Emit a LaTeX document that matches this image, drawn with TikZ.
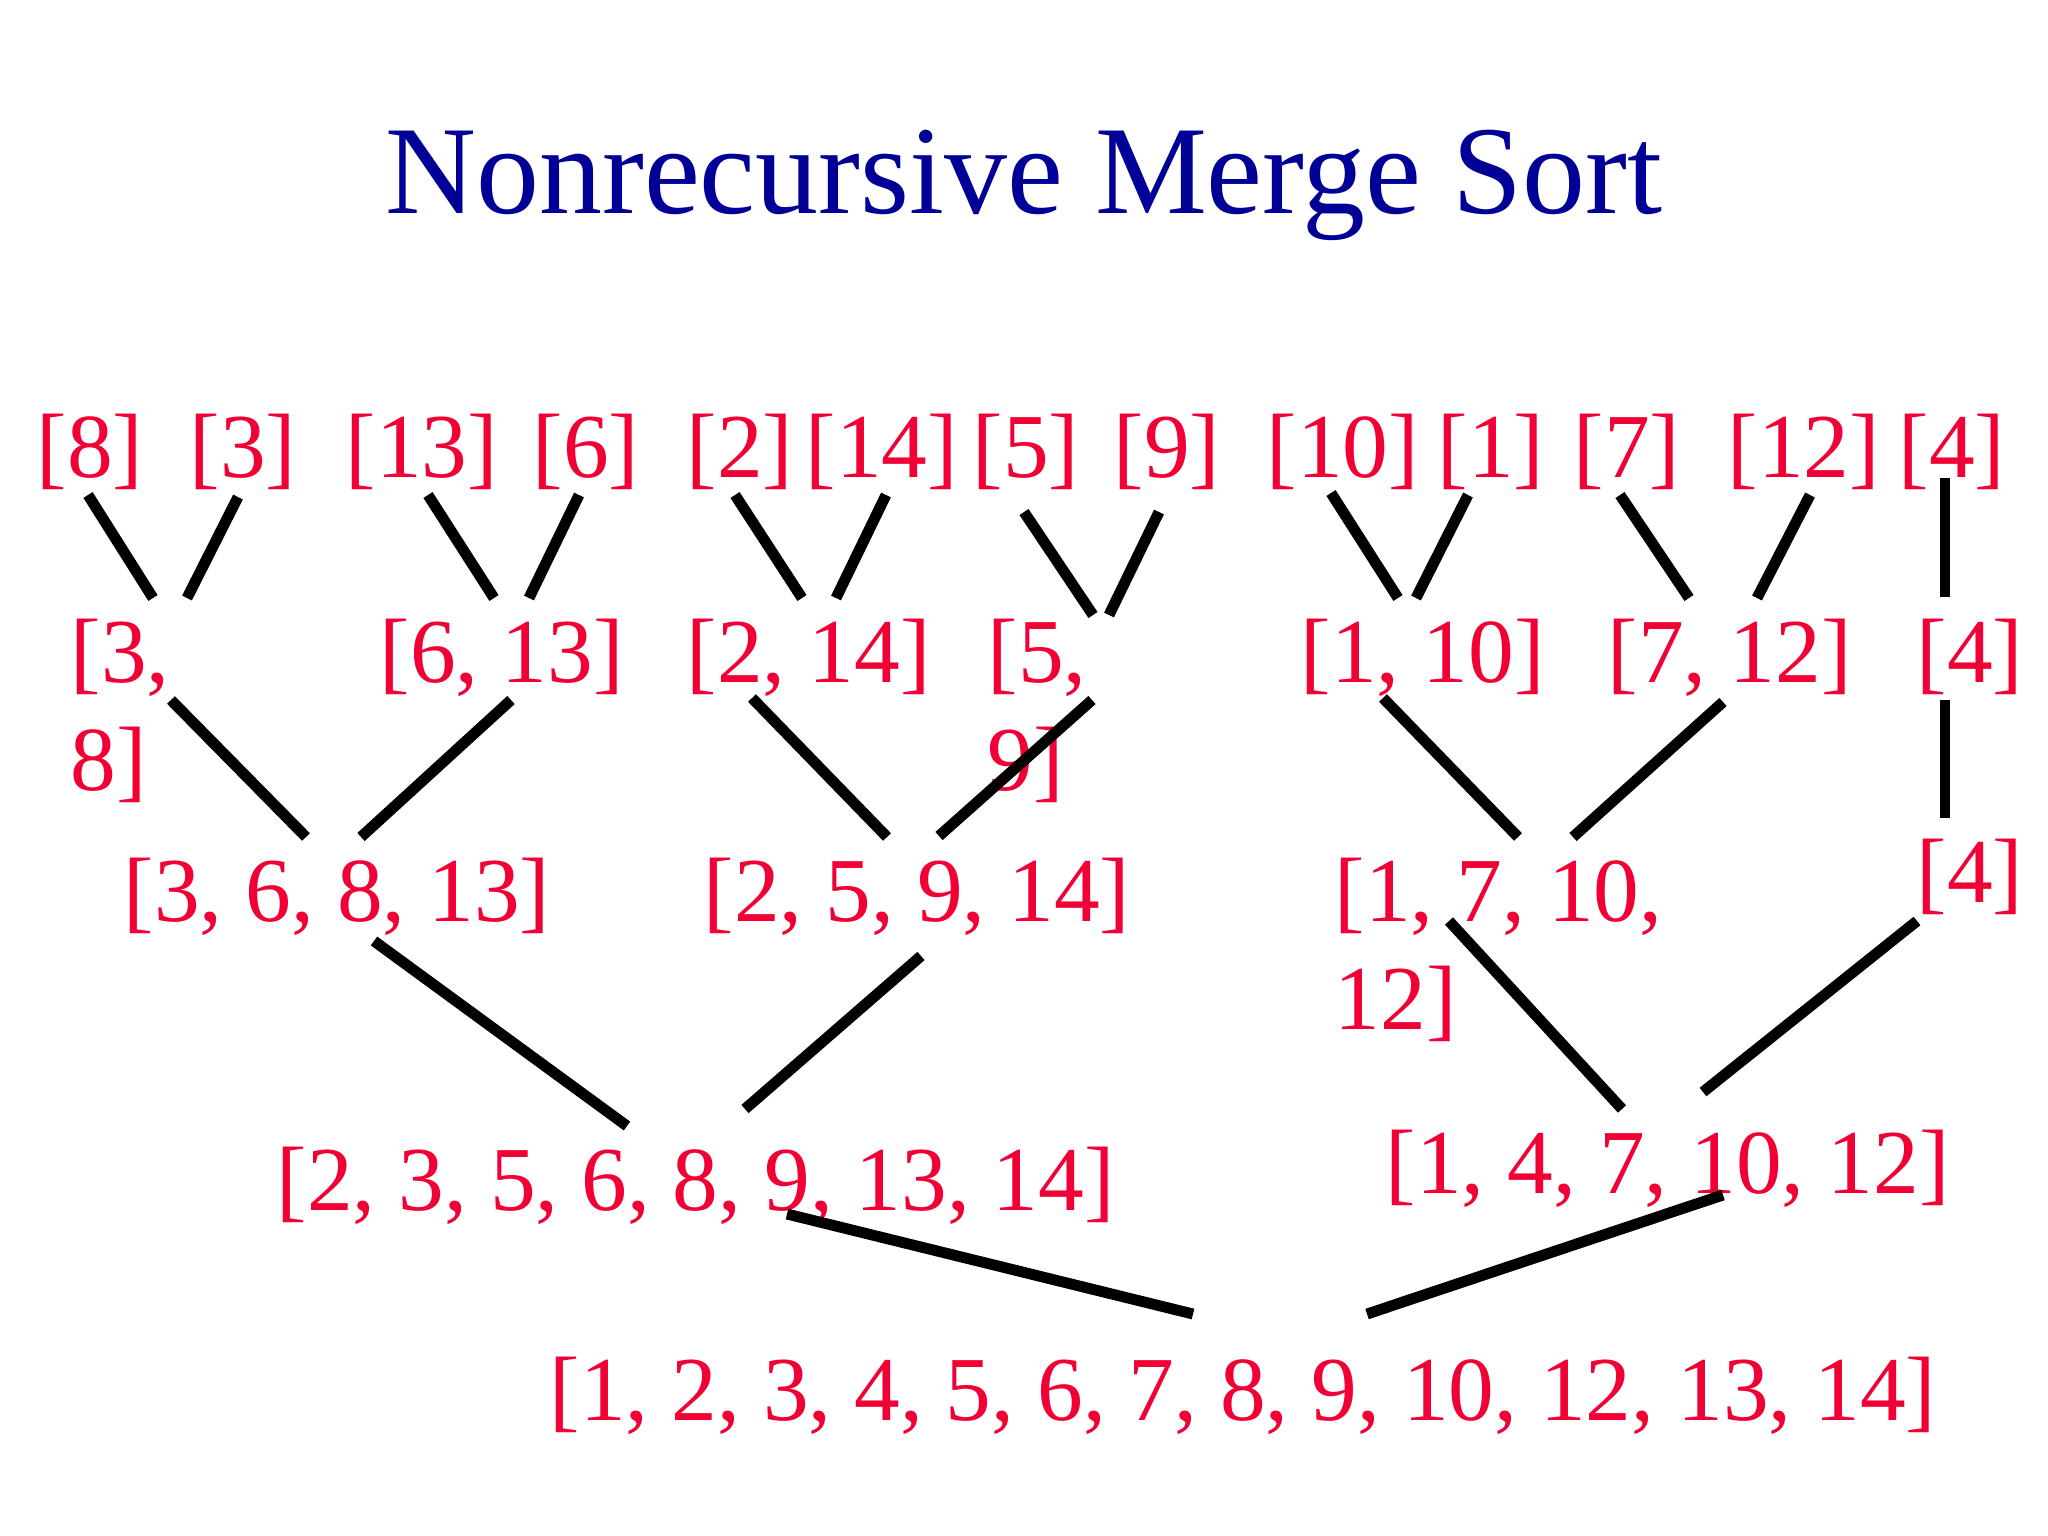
\documentclass[tikz,border=0pt]{standalone}
\usepackage{fontspec}
\setmainfont{Liberation Serif}
\definecolor{lblred}{RGB}{240,0,52}
\definecolor{ttlblue}{RGB}{0,0,150}
\begin{document}
\begin{tikzpicture}[x=0.01cm,y=-0.01cm,
  lbl/.style={text=lblred, font=\fontsize{26pt}{30.7pt}\selectfont, inner sep=0pt, anchor=base west, align=left},
  ttl/.style={text=ttlblue, font=\fontsize{35.8pt}{43pt}\selectfont, inner sep=0pt, anchor=base},
  conn/.style={line width=3.1pt, black}]
\useasboundingbox[fill=white] (0,0) rectangle (2048,1536);
\node[ttl] (title) at (1024,213) {Nonrecursive Merge Sort};
% row 1
\node[lbl] (r1a) at (36,477) {[8]};
\node[lbl] (r1b) at (189,477) {[3]};
\node[lbl] (r1c) at (345,477) {[13]};
\node[lbl] (r1d) at (532,477) {[6]};
\node[lbl] (r1e) at (686,477) {[2]};
\node[lbl] (r1f) at (805,477) {[14]};
\node[lbl] (r1g) at (972,477) {[5]};
\node[lbl] (r1h) at (1113,477) {[9]};
\node[lbl] (r1i) at (1266,477) {[10]};
\node[lbl] (r1j) at (1437,477) {[1]};
\node[lbl] (r1k) at (1573,477) {[7]};
\node[lbl] (r1l) at (1727,477) {[12]};
\node[lbl] (r1m) at (1898,477) {[4]};
% row 2 (multi-line nodes: base = last line)
\node[lbl] (r2a) at (70,790) {[3,\\8]};
\node[lbl] (r2b) at (379,682) {[6, 13]};
\node[lbl] (r2c) at (686,682) {[2, 14]};
\node[lbl] (r2d) at (987,790) {[5,\\9]};
\node[lbl] (r2e) at (1300,682) {[1, 10]};
\node[lbl] (r2f) at (1607,682) {[7, 12]};
\node[lbl] (r2g) at (1916,682) {[4]};
% row 3
\node[lbl] (r3a) at (123,921) {[3, 6, 8, 13]};
\node[lbl] (r3b) at (703,921) {[2, 5, 9, 14]};
\node[lbl] (r3c) at (1334,1029) {[1, 7, 10,\\12]};
\node[lbl] (r3d) at (1916,902) {[4]};
% row 4
\node[lbl] (r4a) at (276,1210) {[2, 3, 5, 6, 8, 9, 13, 14]};
\node[lbl] (r4b) at (1385,1193) {[1, 4, 7, 10, 12]};
% row 5
\node[lbl] (r5a) at (549,1420) {[1, 2, 3, 4, 5, 6, 7, 8, 9, 10, 12, 13, 14]};
% connector end points
\coordinate (a1s) at (88,495);   \coordinate (a1e) at (153,598);
\coordinate (a2s) at (238,497);  \coordinate (a2e) at (187,598);
\coordinate (a3s) at (428,495);  \coordinate (a3e) at (494,598);
\coordinate (a4s) at (579,495);  \coordinate (a4e) at (529,598);
\coordinate (a5s) at (735,495);  \coordinate (a5e) at (802,598);
\coordinate (a6s) at (886,495);  \coordinate (a6e) at (836,598);
\coordinate (a7s) at (1024,512); \coordinate (a7e) at (1093,615);
\coordinate (a8s) at (1159,512); \coordinate (a8e) at (1109,615);
\coordinate (a9s) at (1331,493); \coordinate (a9e) at (1398,598);
\coordinate (a10s) at (1468,495); \coordinate (a10e) at (1416,598);
\coordinate (a11s) at (1620,495); \coordinate (a11e) at (1689,598);
\coordinate (a12s) at (1810,495); \coordinate (a12e) at (1757,598);
\coordinate (a13s) at (1945,478); \coordinate (a13e) at (1945,597);
\coordinate (b1s) at (171,700);  \coordinate (b1e) at (306,837);
\coordinate (b2s) at (511,700);  \coordinate (b2e) at (361,837);
\coordinate (b3s) at (752,698);  \coordinate (b3e) at (887,837);
\coordinate (b4s) at (1092,700); \coordinate (b4e) at (939,836);
\coordinate (b5s) at (1383,698); \coordinate (b5e) at (1518,837);
\coordinate (b6s) at (1723,702); \coordinate (b6e) at (1573,837);
\coordinate (b7s) at (1945,700); \coordinate (b7e) at (1945,818);
\coordinate (c1s) at (374,941);  \coordinate (c1e) at (627,1126);
\coordinate (c2s) at (921,956);  \coordinate (c2e) at (745,1109);
\coordinate (c3s) at (1449,921); \coordinate (c3e) at (1622,1109);
\coordinate (c4s) at (1917,921); \coordinate (c4e) at (1703,1092);
\coordinate (d1s) at (787,1214); \coordinate (d1e) at (1193,1314);
\coordinate (d2s) at (1723,1195); \coordinate (d2e) at (1367,1314);
\foreach \n in {a1,a2,a3,a4,a5,a6,a7,a8,a9,a10,a11,a12,a13,b1,b2,b3,b4,b5,b6,b7,c1,c2,c3,c4,d1,d2}
  \draw[conn] (\n s) -- (\n e);
\end{tikzpicture}
\end{document}
